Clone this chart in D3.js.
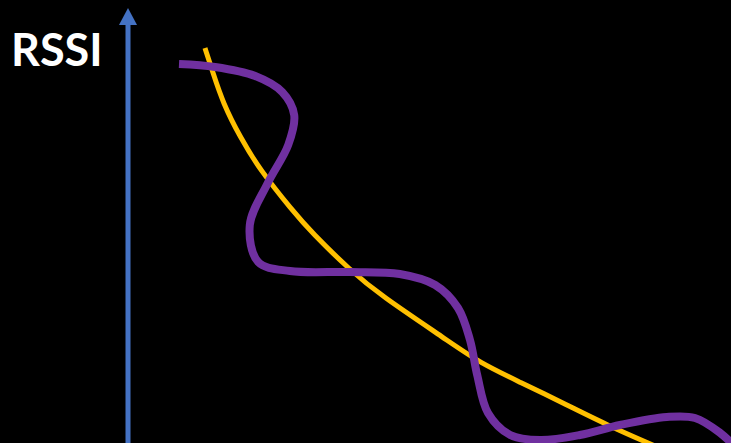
<!DOCTYPE html>
<html>
<head>
<meta charset="utf-8">
<script src="https://cdn.jsdelivr.net/npm/d3@7"></script>
<style>
  html, body { margin: 0; padding: 0; background: #000; }
  svg { display: block; }
</style>
</head>
<body>
<div class="chart"></div>
<script>
// Distance (arbitrary units) and RSSI (arbitrary units).
const idealDist = [12.83, 14.17, 15.83, 18.67, 22, 27.33, 30.67, 37, 42, 53.17, 58.67, 65.33, 73.17, 79.83, 87.83];
const idealRssi = [98.75, 92.5, 85, 76.5, 68.25, 58.25, 52.5, 43.25, 37, 25.75, 20, 15.25, 9.5, 4.5, -0.75];

const realDist = [8.5, 14.5, 21.2, 25.7, 27.7, 26.7, 23.3, 20.3, 21.7, 27, 37, 45.3, 51.2, 55, 57, 58.2, 60, 63.7, 68.7, 75.3, 82, 89.8, 94.5, 98.7, 101.7];
const realRssi = [94.75, 94, 91.75, 87.75, 82, 74.5, 65, 54.5, 45.25, 43, 42.75, 42.25, 39.5, 33.75, 25.75, 17, 7.5, 2, 0.75, 2, 4.5, 6.5, 6.25, 2.5, -1.75];

const axisLabel = 'RSSI';

// Dimensions.
const width = 731,
    height = 443;

const svg = d3.select('.chart')
    .append('svg')
        .attr('width', width)
        .attr('height', height)
        .style('background', '#000');

// Scales.
const x = d3.scaleLinear().domain([0, 100]).range([128, 728]);
const y = d3.scaleLinear().domain([0, 100]).range([443, 43]);

// Y axis arrow.
svg.append('line')
    .attr('x1', x(0))
    .attr('x2', x(0))
    .attr('y1', height)
    .attr('y2', 22)
    .attr('stroke', '#4472C4')
    .attr('stroke-width', 5);

svg.append('path')
    .attr('d', `M${x(0)},8 L${x(0) + 9},25 L${x(0) - 9},25 Z`)
    .attr('fill', '#4472C4');

svg.append('text')
    .attr('x', 11)
    .attr('y', 66)
    .attr('fill', '#fff')
    .attr('font-family', 'Lato, "Open Sans", sans-serif')
    .attr('font-weight', 'bold')
    .attr('font-size', 45)
    .text(axisLabel);

const smooth = d3.line()
    .x(d => x(d[0]))
    .y(d => y(d[1]))
    .curve(d3.curveBasis);

const line = d3.line()
    .x(d => x(d[0]))
    .y(d => y(d[1]))
    .curve(d3.curveCatmullRom.alpha(0.5));

svg.append('path')
    .datum(d3.zip(idealDist, idealRssi))
    .attr('d', smooth)
    .attr('fill', 'none')
    .attr('stroke', '#FFC000')
    .attr('stroke-width', 5);

svg.append('path')
    .datum(d3.zip(realDist, realRssi))
    .attr('d', line)
    .attr('fill', 'none')
    .attr('stroke', '#7030A0')
    .attr('stroke-width', 8);
</script>
</body>
</html>
